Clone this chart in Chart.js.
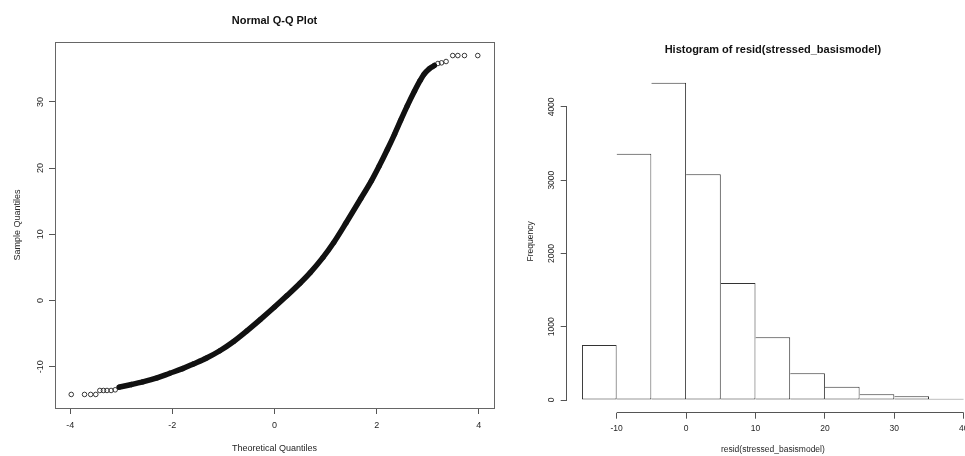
<!DOCTYPE html>
<html lang="en">
<head>
<meta charset="utf-8">
<title>Normal Q-Q Plot / Histogram of resid(stressed_basismodel)</title>
<script src="https://cdn.jsdelivr.net/npm/chart.js@4.4.1/dist/chart.umd.min.js"></script>
<style>
  html, body { margin: 0; padding: 0; background: #fff; overflow: hidden; width: 965px; height: 456px; }
  .panel { position: absolute; top: 0; height: 456px; }
  #qqPanel { left: 0; width: 500px; }
  #histPanel { left: 500px; width: 500px; }
</style>
</head>
<body>
<div class="panel" id="qqPanel"><canvas id="qqChart" width="500" height="456"></canvas></div>
<div class="panel" id="histPanel"><canvas id="histChart" width="500" height="456"></canvas></div>
<script>
// Q-Q plot, points (theoretical quantile -> sample quantile)
const qqTheoretical = [-3.98, -3.72, -3.60, -3.50, -3.42, -3.35, -3.28, -3.20, -3.12, -3.04,
    -2.80, -2.58, -2.30, -2.05, -1.80, -1.59, -1.33, -1.07, -0.80, -0.54, -0.28, 0.00,
    0.24, 0.50, 0.70, 0.95, 1.16, 1.40, 1.69, 1.90, 2.05, 2.21, 2.35, 2.47, 2.60, 2.74,
    2.85, 2.93, 3.03, 3.13, 3.20, 3.27, 3.36, 3.49, 3.59, 3.72, 3.98];
const qqSample = [-14.2, -14.2, -14.2, -14.2, -13.6, -13.6, -13.6, -13.6, -13.5, -13.1,
    -12.7, -12.3, -11.7, -11.0, -10.3, -9.6, -8.7, -7.6, -6.2, -4.6, -2.9, -1.0,
    0.7, 2.6, 4.2, 6.5, 8.75, 11.7, 15.4, 18.1, 20.3, 22.8, 25.1, 27.2, 29.4, 31.6,
    33.2, 34.2, 35.0, 35.5, 35.8, 35.9, 36.1, 37.0, 37.0, 37.0, 37.0];
const qqXTicks = [-4, -2, 0, 2, 4];
const qqYTicks = [-10, 0, 10, 20, 30];

// Histogram of residuals
const histBreaks = [-15, -10, -5, 0, 5, 10, 15, 20, 25, 30, 35, 40];
const histCounts = [750, 3360, 4330, 3080, 1595, 855, 365, 182, 80, 50, 18];
const histXTicks = [-10, 0, 10, 20, 30, 40];
const histYTicks = [0, 1000, 2000, 3000, 4000];

const FONT = "'Liberation Sans', Arial, Helvetica, sans-serif";
Chart.defaults.font.family = FONT;
Chart.defaults.font.size = 9;
Chart.defaults.color = '#262626';
Chart.defaults.animation = false;

// R extends each axis range by 4%
function padRange(vals) {
    const lo = Math.min(...vals), hi = Math.max(...vals), pad = (hi - lo) * 0.04;
    return { min: lo - pad, max: hi + pad };
}
const fixWidth = w => scale => { scale.width = w; };
const fixHeight = h => scale => { scale.height = h; };
const setTicks = vals => scale => { scale.ticks = vals.map(v => ({ value: v })); };
const plain = v => String(v);
const al = p => Math.round(p - 0.5) + 0.5;

// R draws y tick labels turned on their side
const yTickLabels = {
    id: 'yTickLabels',
    afterDraw(chart, args, opts) {
        const { ctx } = chart;
        const y = chart.scales.y;
        ctx.save();
        ctx.font = opts.font;
        ctx.fillStyle = opts.color;
        ctx.textAlign = 'center';
        ctx.textBaseline = 'middle';
        y.ticks.forEach(t => {
            ctx.save();
            ctx.translate(opts.x, y.getPixelForValue(t.value));
            ctx.rotate(-Math.PI / 2);
            ctx.fillText(t.label, 0, 0);
            ctx.restore();
        });
        ctx.restore();
    }
};

// box() round the plot region
const plotBox = {
    id: 'plotBox',
    afterDraw(chart, args, opts) {
        const { ctx, chartArea: a } = chart;
        ctx.save();
        ctx.strokeStyle = opts.color;
        ctx.lineWidth = 1;
        ctx.strokeRect(al(a.left), al(a.top), al(a.right) - al(a.left), al(a.bottom) - al(a.top));
        ctx.restore();
    }
};

// axis lines only between first and last tick, like R's axis()
const axisLines = {
    id: 'axisLines',
    afterDraw(chart, args, opts) {
        const { ctx, chartArea: a, scales: { x, y } } = chart;
        ctx.save();
        ctx.strokeStyle = opts.color;
        ctx.lineWidth = 1;
        ctx.beginPath();
        ctx.moveTo(x.getPixelForValue(x.ticks[0].value), al(a.bottom));
        ctx.lineTo(x.getPixelForValue(x.ticks[x.ticks.length - 1].value), al(a.bottom));
        ctx.moveTo(al(a.left), y.getPixelForValue(y.ticks[0].value));
        ctx.lineTo(al(a.left), y.getPixelForValue(y.ticks[y.ticks.length - 1].value));
        ctx.stroke();
        ctx.restore();
    }
};

// ---- Normal Q-Q plot ----
const qqPoints = qqTheoretical.map((t, i) => ({ x: t, y: qqSample[i] }));
const qqBand = qqPoints.filter(p => p.x >= -3.04 && p.x <= 3.13);
const qqX = padRange(qqTheoretical);
const qqY = padRange(qqSample);

new Chart(document.getElementById('qqChart'), {
    type: 'scatter',
    data: {
        datasets: [
            {
                label: 'band',
                data: qqBand,
                showLine: true,
                borderColor: '#111',
                borderWidth: 5.5,
                borderCapStyle: 'round',
                borderJoinStyle: 'round',
                cubicInterpolationMode: 'monotone',
                pointRadius: 0
            },
            {
                label: 'points',
                data: qqPoints,
                showLine: false,
                pointRadius: 2.3,
                pointBorderWidth: 0.9,
                pointBorderColor: '#222',
                pointBackgroundColor: 'rgba(0,0,0,0)'
            }
        ]
    },
    options: {
        responsive: false,
        events: [],
        layout: { padding: { top: 0, right: 6, bottom: 0, left: 0 } },
        plugins: {
            legend: { display: false },
            tooltip: { enabled: false },
            title: {
                display: true,
                text: 'Normal Q-Q Plot',
                fullSize: false,
                color: '#111',
                font: { size: 11, weight: 'bold' },
                padding: { top: 14.4, bottom: 14.4 }
            },
            plotBox: { color: '#666' },
            yTickLabels: { x: 40.5, font: '9px ' + FONT, color: '#262626' }
        },
        scales: {
            x: {
                type: 'linear',
                position: 'bottom',
                min: qqX.min,
                max: qqX.max,
                afterBuildTicks: setTicks(qqXTicks),
                afterFit: fixHeight(48),
                border: { display: false },
                grid: { drawOnChartArea: false, drawTicks: true, tickLength: 6, color: '#555' },
                ticks: { padding: 6.3, autoSkip: false, maxRotation: 0, callback: plain },
                title: { display: true, text: 'Theoretical Quantiles', font: { size: 9 }, padding: { top: 0, bottom: 2.3 } }
            },
            y: {
                type: 'linear',
                min: qqY.min,
                max: qqY.max,
                afterBuildTicks: setTicks(qqYTicks),
                afterFit: fixWidth(55),
                border: { display: false },
                grid: { drawOnChartArea: false, drawTicks: true, tickLength: 6, color: '#555' },
                ticks: { display: false, callback: plain },
                title: { display: true, text: 'Sample Quantiles', font: { size: 9 }, padding: { top: 12.6, bottom: 0 } }
            }
        }
    },
    plugins: [plotBox, yTickLabels]
});

// ---- Histogram ----
const histMids = histCounts.map((c, i) => (histBreaks[i] + histBreaks[i + 1]) / 2);
const histX = padRange(histBreaks);
const histY = padRange([0, ...histCounts]);

new Chart(document.getElementById('histChart'), {
    type: 'bar',
    data: {
        datasets: [{
            label: 'Frequency',
            data: histMids.map((m, i) => ({ x: m, y: histCounts[i] })),
            backgroundColor: '#fff',
            borderColor: '#333',
            borderWidth: ctx => ({ top: 1, right: 1, bottom: 1, left: ctx.dataIndex === 0 ? 1 : 0 }),
            borderSkipped: false,
            inflateAmount: 0,
            barPercentage: 1,
            categoryPercentage: 1
        }]
    },
    options: {
        responsive: false,
        events: [],
        layout: { padding: { top: 0, right: 21, bottom: 0, left: 0 } },
        plugins: {
            legend: { display: false },
            tooltip: { enabled: false },
            title: {
                display: true,
                text: 'Histogram of resid(stressed_basismodel)',
                fullSize: false,
                color: '#111',
                font: { size: 11, weight: 'bold' },
                padding: { top: 43.4, bottom: 13.4 }
            },
            axisLines: { color: '#555' },
            yTickLabels: { x: 51.7, font: '8.5px ' + FONT, color: '#262626' }
        },
        scales: {
            x: {
                type: 'linear',
                position: 'bottom',
                offset: false,
                min: histX.min,
                max: histX.max,
                afterBuildTicks: setTicks(histXTicks),
                afterFit: fixHeight(43.3),
                border: { display: false },
                grid: { offset: false, drawOnChartArea: false, drawTicks: true, tickLength: 6, color: '#555' },
                ticks: { font: { size: 8.5 }, padding: 4.5, autoSkip: false, maxRotation: 0, callback: plain },
                title: { display: true, text: 'resid(stressed_basismodel)', font: { size: 8.5 }, padding: { top: 0, bottom: 0.9 } }
            },
            y: {
                type: 'linear',
                min: histY.min,
                max: histY.max,
                afterBuildTicks: setTicks(histYTicks),
                afterFit: fixWidth(66.7),
                border: { display: false },
                grid: { drawOnChartArea: false, drawTicks: true, tickLength: 6, color: '#555' },
                ticks: { display: false, callback: plain },
                title: { display: true, text: 'Frequency', font: { size: 8.5 }, padding: { top: 25.6, bottom: 0 } }
            }
        }
    },
    plugins: [axisLines, yTickLabels]
});
</script>
</body>
</html>
